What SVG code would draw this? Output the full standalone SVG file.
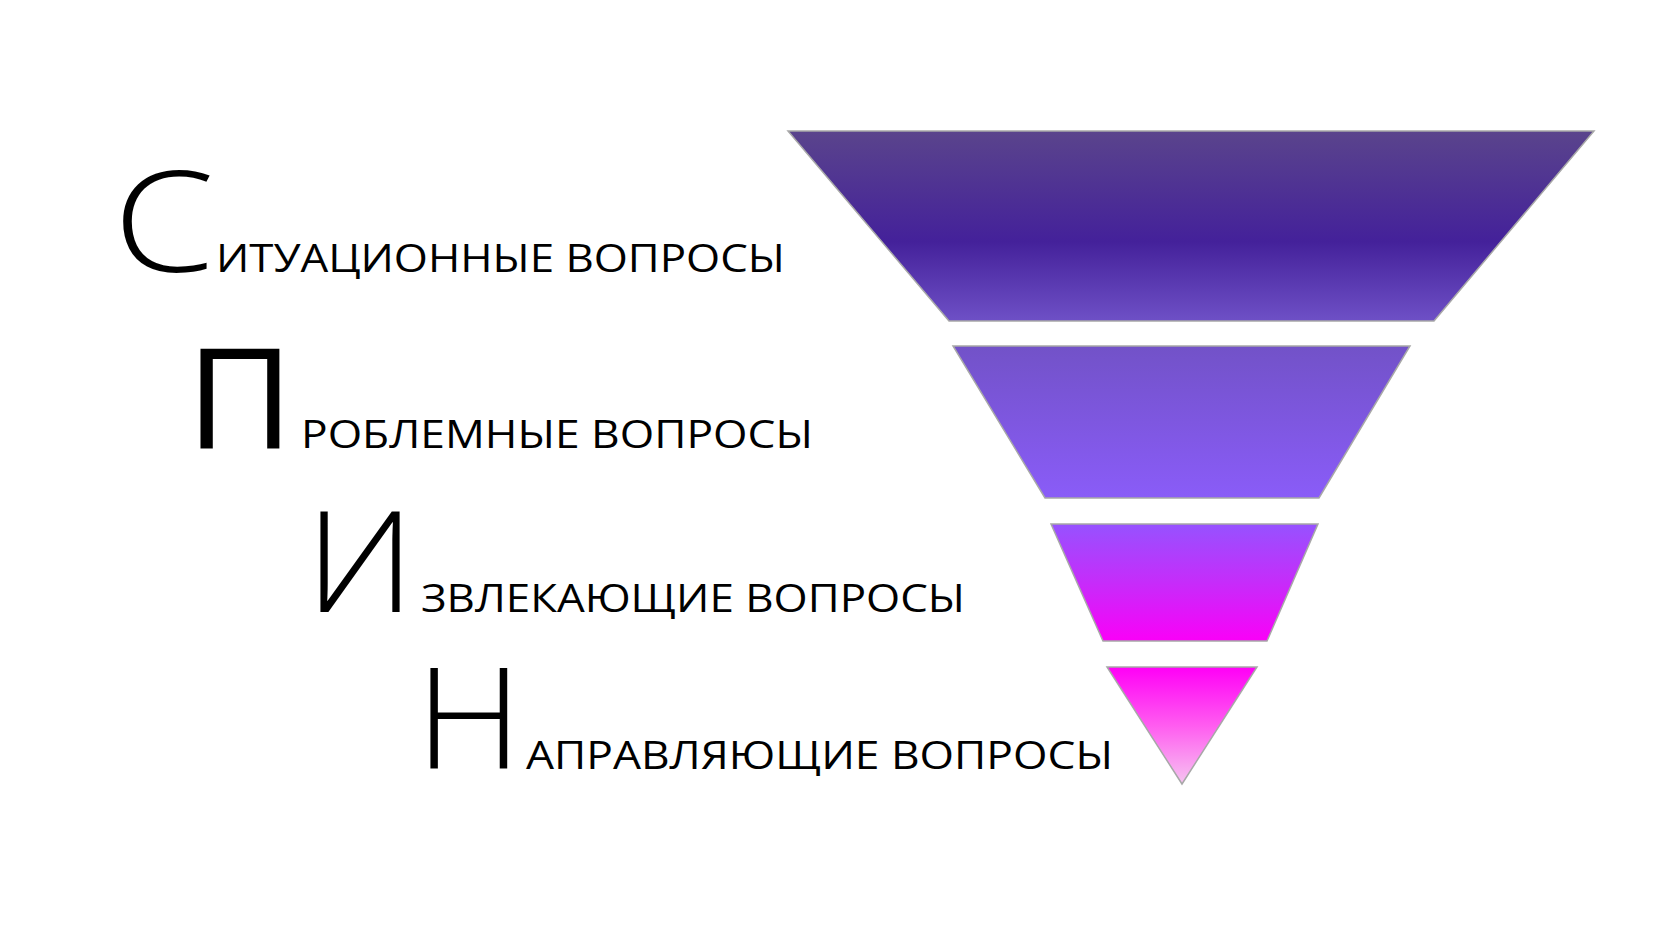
<svg xmlns="http://www.w3.org/2000/svg" width="1680" height="945" viewBox="0 0 1680 945">
<style>
  .seg { stroke: #a8a8a8; stroke-width: 1.5; stroke-linejoin: miter; }
  .big { font-family: "Open Sans", "Noto Sans", "DejaVu Sans", sans-serif; font-size: 140px; fill: #000; }
  .thin { font-weight: 300; }
  .small { font-family: "Open Sans", "Noto Sans", "DejaVu Sans", sans-serif; font-size: 39px; fill: #000; }
</style>
<defs>
  <linearGradient id="g1" x1="0" y1="0" x2="0" y2="1">
    <stop offset="0" stop-color="#5a448c"/>
    <stop offset="0.58" stop-color="#44219a"/>
    <stop offset="1" stop-color="#6e50c6"/>
  </linearGradient>
  <linearGradient id="g2" x1="0" y1="0" x2="0" y2="1">
    <stop offset="0" stop-color="#7252c8"/>
    <stop offset="1" stop-color="#8a5cf8"/>
  </linearGradient>
  <linearGradient id="g3" x1="0" y1="0" x2="0" y2="1">
    <stop offset="0" stop-color="#9652ff"/>
    <stop offset="0.5" stop-color="#c62cfa"/>
    <stop offset="1" stop-color="#fa00f8"/>
  </linearGradient>
  <linearGradient id="g4" x1="0" y1="0" x2="0" y2="1">
    <stop offset="0" stop-color="#ff00f6"/>
    <stop offset="0.5" stop-color="#ff5cf0"/>
    <stop offset="1" stop-color="#f6c4f0"/>
  </linearGradient>
</defs>
<rect width="1680" height="945" fill="#ffffff"/>

<g id="node-situational">
  <polygon class="seg" fill="url(#g1)" points="788,131 1594,131 1434,321 949,321"/>
  <text class="big thin" transform="translate(113,272) scale(1.17,1)">С</text>
  <text class="small" x="216" y="272" textLength="569" lengthAdjust="spacingAndGlyphs">ИТУАЦИОННЫЕ ВОПРОСЫ</text>
</g>

<g id="node-problem">
  <polygon class="seg" fill="url(#g2)" points="953,346 1410,346 1319,498 1045,498"/>
  <text class="big" transform="translate(186,448) scale(1.06,1)">П</text>
  <text class="small" x="301" y="448" textLength="512" lengthAdjust="spacingAndGlyphs">РОБЛЕМНЫЕ ВОПРОСЫ</text>
</g>

<g id="node-implication">
  <polygon class="seg" fill="url(#g3)" points="1051,524 1318,524 1267,641 1103,641"/>
  <text class="big thin" transform="translate(305,612) scale(1.09,1)">И</text>
  <text class="small" x="421" y="612" textLength="544" lengthAdjust="spacingAndGlyphs">ЗВЛЕКАЮЩИЕ ВОПРОСЫ</text>
</g>

<g id="node-need-payoff">
  <polygon class="seg" fill="url(#g4)" points="1107,667 1257,667 1182,784"/>
  <text class="big thin" transform="translate(415.5,768) scale(1.06,1)">Н</text>
  <text class="small" x="526" y="769" textLength="587" lengthAdjust="spacingAndGlyphs">АПРАВЛЯЮЩИЕ ВОПРОСЫ</text>
</g>

<g id="connectors"></g>
</svg>
